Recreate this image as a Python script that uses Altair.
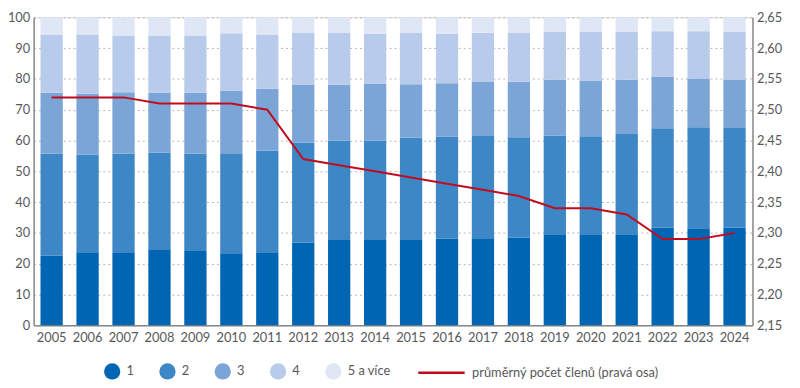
import altair as alt
import pandas as pd

years = [str(y) for y in range(2005, 2025)]
categories = ["1", "2", "3", "4", "5 a více"]
s1 = [22.6, 23.5, 23.5, 24.5, 24.1, 23.2, 23.5, 26.9, 27.7, 27.7, 27.7, 28.1, 28.0, 28.5, 29.6, 29.3, 29.6, 31.8, 31.5, 31.7]
s2 = [33.1, 32.0, 32.2, 31.5, 31.6, 32.4, 33.2, 32.4, 32.2, 32.3, 33.2, 33.2, 33.5, 32.6, 32.0, 32.1, 32.5, 32.2, 32.8, 32.4]
s3 = [19.8, 19.7, 20.0, 19.5, 19.8, 20.6, 20.1, 18.7, 18.2, 18.5, 17.4, 17.3, 17.5, 18.0, 18.1, 18.1, 17.6, 16.6, 15.8, 15.7]
s4 = [18.9, 19.2, 18.4, 18.6, 18.6, 18.6, 17.6, 16.9, 16.8, 16.2, 16.6, 16.1, 16.0, 15.8, 15.5, 15.9, 15.7, 14.9, 15.4, 15.6]
s5 = [5.6, 5.6, 5.9, 5.9, 5.9, 5.2, 5.6, 5.1, 5.1, 5.3, 5.1, 5.3, 5.0, 5.1, 4.8, 4.6, 4.6, 4.5, 4.5, 4.6]
avg_members = [2.52, 2.52, 2.52, 2.51, 2.51, 2.51, 2.50, 2.42, 2.41, 2.40, 2.39, 2.38, 2.37, 2.36, 2.34, 2.34, 2.33, 2.29, 2.29, 2.30]
right_ticks = [2.15, 2.20, 2.25, 2.30, 2.35, 2.40, 2.45, 2.50, 2.55, 2.60, 2.65]
line_label = "průměrný počet členů (pravá osa)"

colors = ["#0066b3", "#3d87c7", "#7ba4d7", "#b9cbea", "#dfe6f5"]
FONT = "Lato"
GREY = "#58595b"

rows = []
for i, y in enumerate(years):
    for k, (cat, s) in enumerate(zip(categories, [s1, s2, s3, s4, s5])):
        rows.append({"year": y, "cat": cat, "order": k, "value": s[i]})
bars_df = pd.DataFrame(rows)
line_df = pd.DataFrame({"year": years, "avg": avg_members, "series": line_label})

x_enc = alt.X("year:O", title=None,
              scale=alt.Scale(paddingInner=0.38, paddingOuter=0.19),
              axis=alt.Axis(labelAngle=0, ticks=False, domainColor="#8a8a8a",
                            domainWidth=1.5, labelColor=GREY, labelFontSize=13,
                            labelFont=FONT, labelPadding=6))

bars = alt.Chart(bars_df).mark_bar().encode(
    x=x_enc,
    y=alt.Y("value:Q", stack="zero", title=None,
            scale=alt.Scale(domain=[0, 100], nice=False),
            axis=alt.Axis(values=list(range(0, 101, 10)), ticks=False,
                          domainColor="#8a8a8a", domainWidth=1.5,
                          grid=True, gridDash=[2, 3], gridColor="#b5b5b5",
                          labelColor=GREY, labelFontSize=13, labelFont=FONT,
                          labelPadding=4)),
    color=alt.Color("cat:N", title=None,
                    scale=alt.Scale(domain=categories, range=colors),
                    legend=alt.Legend(orient="none", legendX=71, legendY=350,
                                      direction="horizontal", columns=5,
                                      symbolType="circle", symbolSize=270,
                                      symbolStrokeWidth=0, symbolOpacity=1,
                                      labelFontSize=13, labelFont=FONT,
                                      labelColor=GREY, labelOffset=6,
                                      columnPadding=25)),
    order=alt.Order("order:Q", sort="ascending"),
)

line = alt.Chart(line_df).mark_line(strokeWidth=2).encode(
    x=alt.X("year:O"),
    y=alt.Y("avg:Q", title=None,
            scale=alt.Scale(domain=[2.15, 2.65], nice=False, zero=False),
            axis=alt.Axis(orient="right", values=right_ticks, ticks=False,
                          grid=False, domainColor="#8a8a8a", domainWidth=1.5,
                          labelColor=GREY, labelFontSize=13, labelFont=FONT,
                          labelPadding=4,
                          labelExpr="replace(format(datum.value, '.2f'), '.', ',')")),
    stroke=alt.Stroke("series:N", title=None,
                      scale=alt.Scale(domain=[line_label], range=["#c00d1e"]),
                      legend=alt.Legend(orient="none", legendX=388, legendY=335,
                                        symbolType="stroke", symbolSize=2209,
                                        symbolStrokeWidth=2.5, labelLimit=400,
                                        labelFontSize=13, labelFont=FONT,
                                        labelColor=GREY, labelOffset=6)),
)

chart = alt.layer(bars, line).resolve_scale(
    y="independent", color="independent"
).properties(
    width=728, height=312,
    autosize=alt.AutoSizeParams(type="none"),
    padding={"left": 26, "top": 7, "right": 40, "bottom": 60},
).configure_view(stroke=None).configure(background="white")

chart.save("out.html", embed_options={"renderer": "svg", "actions": False})
